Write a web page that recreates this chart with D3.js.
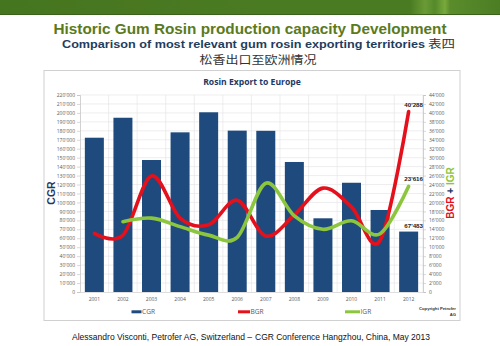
<!DOCTYPE html>
<html><head><meta charset="utf-8">
<script src="https://cdn.jsdelivr.net/npm/d3@7"></script>
<style>html,body{margin:0;padding:0;background:#fff;}svg{display:block;}</style>
</head><body>
<svg id="c" width="500" height="346"></svg>
<script>
const years = ["2001","2002","2003","2004","2005","2006","2007","2008","2009","2010","2011","2012"];
const cgr = [172300,194600,147400,178300,200700,180200,180000,145200,82300,122000,91600,67483];
const bgr = [13100,12700,25900,16500,15000,20500,12500,17200,23200,19000,11500,40288];
const igrYears = ["2002","2003","2004","2005","2006","2007","2008","2009","2010","2011","2012"];
const igr = [15700,16500,14600,12700,12200,24300,17000,14000,15900,13000,23616];
const leftTicks = d3.range(0,220001,10000);
const rightTicks = d3.range(0,44001,2000);
const legendItems = ["CGR","BGR","IGR"];
const dataLabels = [{s:"BGR",v:40288,t:"40'288"},{s:"IGR",v:23616,t:"23'616"},{s:"CGR",v:67483,t:"67'483"}];

const svg = d3.select("#c");
const fmt = v => v===0 ? "0" : d3.format(",")(v).replace(/,/g,"'");
const NAVY="#1f4a7d", RED="#e4101c", GREEN="#8cc63e", GRAY="#5a5a5a";

// banner
const defs = svg.append("defs");
const g1 = defs.append("linearGradient").attr("id","ban").attr("x1","0").attr("x2","1").attr("y1","0").attr("y2","0");
[[0,"#46751f"],[0.5,"#4a7a22"],[0.82,"#4a7b22"],[0.85,"#6a9a35"],[0.87,"#558a2a"],[0.89,"#78a93c"],[0.9,"#5a8c2b"],[1,"#4c7d24"]].forEach(s=>g1.append("stop").attr("offset",s[0]).attr("stop-color",s[1]));
svg.append("rect").attr("x",0).attr("y",0).attr("width",500).attr("height",15).attr("fill","url(#ban)");
svg.append("rect").attr("x",0).attr("y",14).attr("width",500).attr("height",1).attr("fill","#3a621a");

// titles
svg.append("text").attr("x",250).attr("y",33.7).attr("text-anchor","middle")
  .attr("font-family","Liberation Sans, Arial, sans-serif").attr("font-weight","bold").attr("font-size",15.3)
  .attr("fill","#5b7a1c").attr("textLength",393).attr("lengthAdjust","spacingAndGlyphs")
  .text("Historic Gum Rosin production capacity Development");
svg.append("text").attr("x",62).attr("y",47.8)
  .attr("font-family","Liberation Sans, Arial, sans-serif").attr("font-weight","bold").attr("font-size",10.8)
  .attr("fill","#1f3d5e").attr("textLength",363).attr("lengthAdjust","spacingAndGlyphs")
  .text("Comparison of most relevant gum rosin exporting territories");
svg.append("text").attr("x",428).attr("y",47.8)
  .attr("font-family","Noto Sans CJK SC, sans-serif").attr("font-size",11.5)
  .attr("fill","#333").attr("textLength",27).attr("lengthAdjust","spacingAndGlyphs").text("表四");
svg.append("text").attr("x",258).attr("y",64.3).attr("text-anchor","middle")
  .attr("font-family","Noto Sans CJK SC, sans-serif").attr("font-size",11.8)
  .attr("fill","#333").attr("textLength",117).attr("lengthAdjust","spacingAndGlyphs").text("松香出口至欧洲情况");

// chart box
svg.append("rect").attr("x",44).attr("y",70.5).attr("width",416).attr("height",250)
  .attr("fill","#fff").attr("stroke","#d0d0d0").attr("stroke-width",1);
svg.append("text").attr("x",252).attr("y",85).attr("text-anchor","middle")
  .attr("font-family","Open Sans, Lato, sans-serif").attr("font-weight","bold").attr("font-size",8.6)
  .attr("fill","#1f3864").text("Rosin Export to Europe");

const L=80, R=423, T=95, B=292;
const x = d3.scaleBand().domain(years).range([L,R]).paddingInner(0.335).paddingOuter(0.17);
const yL = d3.scaleLinear().domain([0,220000]).range([B,T]);
const yR = d3.scaleLinear().domain([0,44000]).range([B,T]);
const step = x.step();
const cx = d => x(d)+x.bandwidth()/2;

// grid
const grid = svg.append("g");
grid.selectAll("line.h").data(leftTicks.slice(1)).join("line")
  .attr("x1",L).attr("x2",R).attr("y1",d=>yL(d)).attr("y2",d=>yL(d))
  .attr("stroke","#e2e2e2").attr("stroke-width",0.6);
grid.selectAll("line.v").data(years.slice(1).concat(["end"])).join("line")
  .attr("x1",(d,i)=>L+step*(i+1)).attr("x2",(d,i)=>L+step*(i+1)).attr("y1",T).attr("y2",B)
  .attr("stroke","#e2e2e2").attr("stroke-width",0.6);

// bars
svg.append("g").selectAll("rect").data(years).join("rect")
  .attr("x",d=>x(d)).attr("width",x.bandwidth())
  .attr("y",(d,i)=>yL(cgr[i])).attr("height",(d,i)=>B-yL(cgr[i]))
  .attr("fill",NAVY);

// axes
const axL = d3.axisLeft(yL).tickValues(leftTicks).tickFormat(fmt).tickSize(3).tickPadding(2);
const gL = svg.append("g").attr("transform",`translate(${L},0)`).call(axL);
const axR = d3.axisRight(yR).tickValues(rightTicks).tickFormat(fmt).tickSize(3).tickPadding(3);
const gR = svg.append("g").attr("transform",`translate(${R},0)`).call(axR);
const axB = d3.axisBottom(x).tickSize(0).tickPadding(5);
const gB = svg.append("g").attr("transform",`translate(0,${B})`).call(axB);
[gL,gR,gB].forEach(g=>{
  g.selectAll("path.domain").attr("stroke","#bfbfbf").attr("stroke-width",0.7);
  g.selectAll(".tick line").attr("stroke","#bfbfbf").attr("stroke-width",0.6);
  g.selectAll("text").attr("font-family","Open Sans, sans-serif").attr("font-size",5).attr("fill",GRAY);
});
gB.select("path.domain").attr("stroke","#d0d0d0");

// lines
const line = d3.line().curve(d3.curveCardinal.tension(0));
svg.append("path").datum(years.map((d,i)=>[cx(d),yR(bgr[i])]))
  .attr("d",line).attr("fill","none").attr("stroke",RED).attr("stroke-width",3.6).attr("stroke-linecap","round");
svg.append("path").datum(igrYears.map((d,i)=>[cx(d),yR(igr[i])]))
  .attr("d",line).attr("fill","none").attr("stroke",GREEN).attr("stroke-width",3.6).attr("stroke-linecap","round");

// data labels
const last = years[years.length-1];
svg.append("g").selectAll("text").data(dataLabels).join("text")
  .attr("x",cx(last)+5).attr("text-anchor","middle")
  .attr("y",d=> d.s==="CGR" ? yL(d.v)-4 : yR(d.v)-5)
  .attr("font-family","Liberation Sans, Arial, sans-serif").attr("font-weight","bold").attr("font-size",6.2)
  .attr("fill","#222").text(d=>d.t);

// axis titles
svg.append("text").attr("transform","translate(54.5,193) rotate(-90)").attr("text-anchor","middle")
  .attr("font-family","Liberation Sans, Arial, sans-serif").attr("font-weight","bold").attr("font-size",10.5)
  .attr("fill","#1f3864").text("CGR");
const rt = svg.append("text").attr("transform","translate(454,193) rotate(-90)").attr("text-anchor","middle")
  .attr("font-family","Liberation Sans, Arial, sans-serif").attr("font-weight","bold").attr("font-size",10);
rt.append("tspan").attr("fill",RED).text("BGR");
rt.append("tspan").attr("fill","#1f3864").text(" + ");
rt.append("tspan").attr("fill",GREEN).text("IGR");

// legend
const legX = [131.5,238,345], legW=[10,12,15];
const colors = {CGR:NAVY,BGR:RED,IGR:GREEN};
const lg = svg.append("g");
legendItems.forEach((k,i)=>{
  lg.append("rect").attr("x",legX[i]).attr("y",310.3).attr("width",legW[i]).attr("height",3).attr("fill",colors[k]);
  lg.append("text").attr("x",legX[i]+legW[i]+0.5).attr("y",314).attr("font-family","Open Sans, sans-serif")
    .attr("font-size",6.6).attr("fill",GRAY).text(k);
});
svg.append("text").attr("x",456).attr("y",310).attr("text-anchor","end").attr("font-family","Liberation Sans, Arial, sans-serif")
  .attr("font-weight","bold").attr("font-size",4.2).attr("fill","#333").text("Copyright Petrofer");
svg.append("text").attr("x",456).attr("y",316).attr("text-anchor","end").attr("font-family","Liberation Sans, Arial, sans-serif")
  .attr("font-weight","bold").attr("font-size",4.2).attr("fill","#333").text("AG");

// footer
svg.append("text").attr("x",72).attr("y",340).attr("font-family","Liberation Sans, Arial, sans-serif")
  .attr("font-size",9).attr("fill","#111").attr("textLength",180).attr("lengthAdjust","spacingAndGlyphs")
  .text("Alessandro Visconti, Petrofer AG, Switzerland –");
svg.append("text").attr("x",255).attr("y",340).attr("font-family","Liberation Sans, Arial, sans-serif")
  .attr("font-size",9).attr("fill","#111").attr("textLength",175).attr("lengthAdjust","spacingAndGlyphs")
  .text("CGR Conference Hangzhou, China, May 2013");
</script>
</body></html>
